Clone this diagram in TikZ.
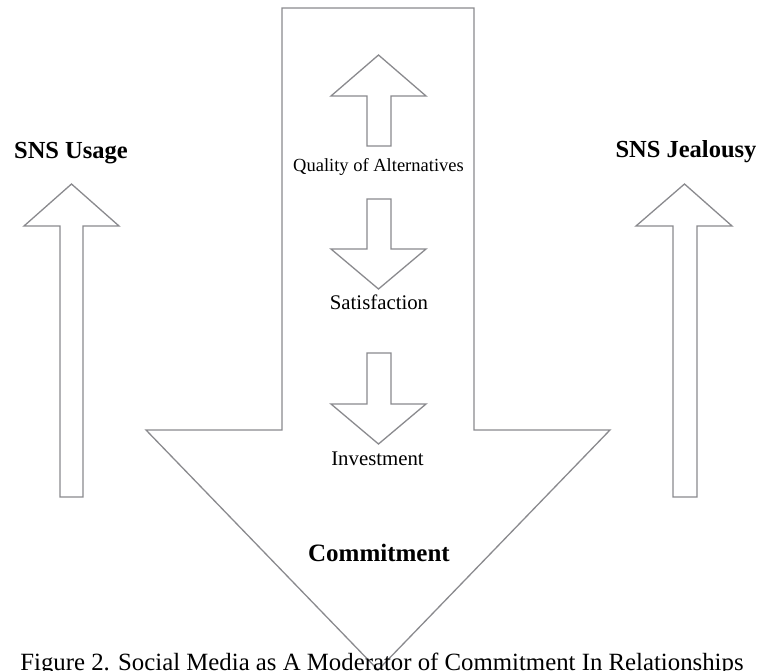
\documentclass[tikz,border=0pt]{standalone}
\usepackage{fontspec}
\setmainfont{Liberation Serif}
\definecolor{shapegray}{RGB}{138,138,142}
\tikzset{
  shapeline/.style={draw=shapegray, line width=1.3pt, line join=miter, fill=white},
  lbl/.style={anchor=base, inner sep=0pt, text=black},
  boldlbl/.style={lbl, font=\fontsize{24.5}{29}\selectfont\bfseries},
  midlbl/.style={lbl, font=\fontsize{20.8}{25}\selectfont},
  smalllbl/.style={lbl, font=\fontsize{18.5}{22}\selectfont},
}
\begin{document}
\begin{tikzpicture}[x=1pt, y=-1pt]
\useasboundingbox (0,0) rectangle (760,671);
% big downward arrow (Commitment)
\path[shapeline] (282,8) -- (474,8) -- (474,430) -- (610,430) -- (378,670) -- (146,430) -- (282,430) -- cycle;
% left up arrow (SNS Usage)
\path[shapeline] (60,497) -- (60,226) -- (24,226) -- (71.5,184) -- (119,226) -- (83,226) -- (83,497) -- cycle;
% right up arrow (SNS Jealousy)
\path[shapeline] (673,497) -- (673,226) -- (636,226) -- (684.5,184) -- (732,226) -- (697,226) -- (697,497) -- cycle;
% small up arrow (Quality of Alternatives)
\path[shapeline] (367,146) -- (367,96) -- (331,96) -- (378.5,55) -- (426,96) -- (391,96) -- (391,146) -- cycle;
% small down arrow (Satisfaction)
\path[shapeline] (367,199) -- (391,199) -- (391,249) -- (426,249) -- (378.5,289) -- (331,249) -- (367,249) -- cycle;
% small down arrow (Investment)
\path[shapeline] (367,353) -- (391,353) -- (391,404) -- (426,404) -- (378.5,444) -- (331,404) -- (367,404) -- cycle;
% labels
\node[boldlbl] (usage) at (71,159) {SNS Usage};
\node[boldlbl] (jealousy) at (686,158) {SNS Jealousy};
\node[smalllbl] (quality) at (378.5,171.5) {Quality of Alternatives};
\node[midlbl] (satisfaction) at (379,309) {Satisfaction};
\node[midlbl] (investment) at (377.5,465) {Investment};
\node[lbl, font=\fontsize{25}{30}\selectfont\bfseries] (commitment) at (379,561) {Commitment};
\node[lbl, font=\fontsize{24.8}{30}\selectfont] (caption) at (382,670) {Figure 2. Social Media as A Moderator of Commitment In Relationships};
\end{tikzpicture}
\end{document}
